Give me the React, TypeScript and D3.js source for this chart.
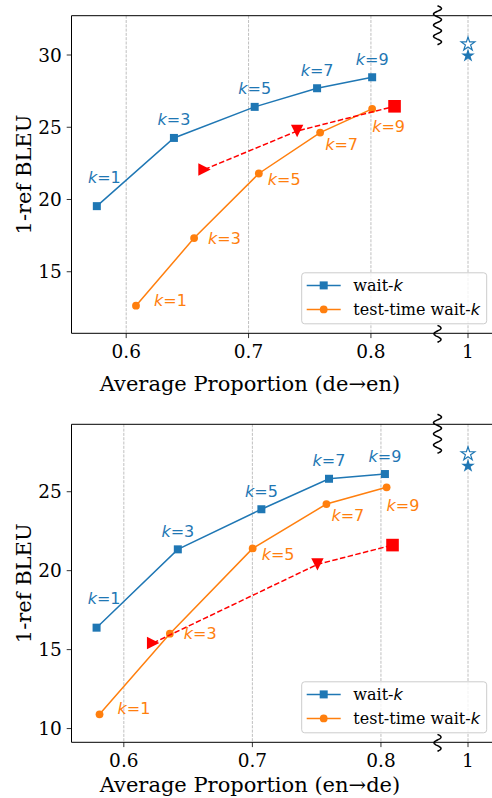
import * as d3 from 'd3';

const W = 492;
const H = 798;

const kValues = [1, 3, 5, 7, 9];
const xTicks = [0.6, 0.7, 0.8];

// de→en
const deWaitX = [0.576, 0.639, 0.705, 0.756, 0.801];
const deWaitY = [19.54, 24.26, 26.41, 27.7, 28.46];
const deTestX = [0.608, 0.6555, 0.7084, 0.7585, 0.801];
const deTestY = [12.65, 17.33, 21.8, 24.63, 26.27];
const deRedX = [0.664, 0.7397, 0.8193];
const deRedY = [22.08, 24.74, 26.45];
const deStarY = [30.75, 29.95]; // hollow, filled
const deYTicks = [15, 20, 25, 30];

// en→de
const enWaitX = [0.5788, 0.642, 0.707, 0.7596, 0.8031];
const enWaitY = [16.39, 21.35, 23.89, 25.82, 26.12];
const enTestX = [0.5811, 0.6358, 0.7002, 0.7576, 0.8044];
const enTestY = [10.9, 16.01, 21.41, 24.22, 25.28];
const enRedX = [0.6228, 0.7506, 0.809];
const enRedY = [15.42, 20.4, 21.62];
const enStarY = [27.39, 26.63];
const enYTicks = [10, 15, 20, 25];

const BLUE = '#1f77b4';
const ORANGE = '#ff7f0e';
const RED = '#ff0000';
const LEFT = 71.5;
const BREAK = 437;

// label offsets (px) for the k annotations
const waitOff = [[7.5, -29], [0, -18.5], [0, -18.5], [0, -18.5], [0, -18]];
const testOff = [[18, -6], [14, 0], [9, 6], [5, 11.5], [0, 17.5]];

function squiggle(cx: number, y0: number, y1: number, waves: number, amp: number) {
  const pts: [number, number][] = [];
  const n = 60;
  for (let i = 0; i <= n; i++) {
    const t = i / n;
    pts.push([cx + amp * Math.sin(t * waves * 2 * Math.PI), y0 + t * (y1 - y0)]);
  }
  return d3.line()(pts) || '';
}

function KLabel({ x, y, k, color, anchor }: any) {
  return (
    <text x={x} y={y} fill={color} fontSize={16} fontFamily="DejaVu Sans" textAnchor={anchor}>
      <tspan fontStyle="italic">k</tspan>={k}
    </text>
  );
}

function Panel(p: any) {
  const x = d3.scaleLinear().domain(p.xDomain).range([LEFT, BREAK]);
  const xr = d3.scaleLinear().domain([0.95, 1.05]).range([BREAK, BREAK + 62]);
  const y = d3.scaleLinear().domain(p.yDomain).range([p.bottom, p.top]);
  const line = d3.line<number>().x((_, i) => x(p.waitX[i])).y(d => y(d));
  const lineT = d3.line<number>().x((_, i) => x(p.testX[i])).y(d => y(d));
  const lineR = d3.line<number>().x((_, i) => x(p.redX[i])).y(d => y(d));
  const star = d3.symbol().type(d3.symbolStar).size(58)() || '';
  const r = 6.2;
  const triRight = `M${-r},${-r}L${r},0L${-r},${r}Z`;
  const triDown = `M${-r},${-r}L${r},${-r}L0,${r}Z`;
  const legY = p.bottom - 9.5 - 51;
  const fs = 18.5;
  const lfs = 21;
  return (
    <g>
      {/* grid */}
      {xTicks.map(t => (
        <line key={t} x1={x(t)} x2={x(t)} y1={p.top} y2={p.bottom} stroke="#b0b0b0" strokeWidth={0.8} strokeDasharray="3,1.3" />
      ))}
      <line x1={xr(1)} x2={xr(1)} y1={p.top} y2={p.bottom} stroke="#b0b0b0" strokeWidth={0.8} strokeDasharray="3,1.3" />

      {/* spines */}
      <line x1={LEFT} x2={LEFT} y1={p.top} y2={p.bottom} stroke="#000" strokeWidth={1} />
      <line x1={LEFT} x2={W} y1={p.top} y2={p.top} stroke="#000" strokeWidth={1} />
      <line x1={LEFT} x2={W} y1={p.bottom} y2={p.bottom} stroke="#000" strokeWidth={1} />
      <path d={squiggle(BREAK + 0.5, p.top - 10, p.top + 29, 3.5, 4)} fill="none" stroke="#000" strokeWidth={1.5} />
      <path d={squiggle(BREAK + 0.5, p.bottom - 8, p.bottom + 9, 1.5, 3.5)} fill="none" stroke="#000" strokeWidth={1.5} />

      {/* y ticks */}
      {p.yTicks.map((t: number) => (
        <g key={t}>
          <line x1={LEFT - 4.8} x2={LEFT} y1={y(t)} y2={y(t)} stroke="#000" strokeWidth={0.8} />
          <text x={LEFT - 9.7} y={y(t) + 6.7} textAnchor="end" fontSize={fs} fontFamily="DejaVu Serif">{t}</text>
        </g>
      ))}
      {/* x ticks */}
      {xTicks.map(t => (
        <g key={t}>
          <line x1={x(t)} x2={x(t)} y1={p.bottom} y2={p.bottom + 4.8} stroke="#000" strokeWidth={0.8} />
          <text x={x(t)} y={p.bottom + 24.5} textAnchor="middle" fontSize={fs} fontFamily="DejaVu Serif">{t}</text>
        </g>
      ))}
      <line x1={xr(1)} x2={xr(1)} y1={p.bottom} y2={p.bottom + 4.8} stroke="#000" strokeWidth={0.8} />
      <text x={xr(1)} y={p.bottom + 24.5} textAnchor="middle" fontSize={fs} fontFamily="DejaVu Serif">1</text>

      {/* axis labels */}
      <text x={250} y={p.bottom + p.xLabelDy} textAnchor="middle" fontSize={lfs} fontFamily="DejaVu Serif">{p.xLabel}</text>
      <text transform={`translate(30.5,${(p.top + p.bottom) / 2}) rotate(-90)`} textAnchor="middle" fontSize={lfs} fontFamily="DejaVu Serif">1-ref BLEU</text>

      {/* wait-k */}
      <path d={line(p.waitY) || ''} fill="none" stroke={BLUE} strokeWidth={1.5} />
      {p.waitY.map((v: number, i: number) => (
        <rect key={i} x={x(p.waitX[i]) - 4} y={y(v) - 4} width={8} height={8} fill={BLUE} />
      ))}
      {/* test-time wait-k */}
      <path d={lineT(p.testY) || ''} fill="none" stroke={ORANGE} strokeWidth={1.5} />
      {p.testY.map((v: number, i: number) => (
        <circle key={i} cx={x(p.testX[i])} cy={y(v)} r={3.9} fill={ORANGE} />
      ))}
      {/* red dashed */}
      <path d={lineR(p.redY) || ''} fill="none" stroke={RED} strokeWidth={1.5} strokeDasharray="5.5,2.4" />
      <path d={triRight} transform={`translate(${x(p.redX[0])},${y(p.redY[0])})`} fill={RED} />
      <path d={triDown} transform={`translate(${x(p.redX[1])},${y(p.redY[1])})`} fill={RED} />
      <rect x={x(p.redX[2]) - 6.3} y={y(p.redY[2]) - 6.3} width={12.6} height={12.6} fill={RED} />

      {/* stars at 1 */}
      <path d={star} transform={`translate(${xr(1)},${y(p.starY[0])})`} fill="#fff" stroke={BLUE} strokeWidth={1.2} />
      <path d={star} transform={`translate(${xr(1)},${y(p.starY[1])})`} fill={BLUE} />

      {/* k labels */}
      {kValues.map((k, i) => (
        <KLabel key={'w' + k} k={k} color={BLUE} anchor="middle"
          x={x(p.waitX[i]) + waitOff[i][0]} y={y(p.waitY[i]) + waitOff[i][1] + 5.8} />
      ))}
      {kValues.map((k, i) => (
        <KLabel key={'t' + k} k={k} color={ORANGE} anchor="start"
          x={x(p.testX[i]) + testOff[i][0]} y={y(p.testY[i]) + testOff[i][1] + 5.8} />
      ))}

      {/* legend */}
      <rect x={301.7} y={legY} width={185} height={51} rx={3} fill="#fff" fillOpacity={0.8} stroke="#cccccc" strokeWidth={1} />
      <line x1={306.7} x2={340.7} y1={legY + 12.6} y2={legY + 12.6} stroke={BLUE} strokeWidth={1.5} />
      <rect x={323.7 - 4} y={legY + 12.6 - 4} width={8} height={8} fill={BLUE} />
      <text x={353.3} y={legY + 12.6 + 5.5} fontSize={16} fontFamily="DejaVu Serif">wait-<tspan fontFamily="DejaVu Sans" fontStyle="italic">k</tspan></text>
      <line x1={306.7} x2={340.7} y1={legY + 36.6} y2={legY + 36.6} stroke={ORANGE} strokeWidth={1.5} />
      <circle cx={323.7} cy={legY + 36.6} r={3.9} fill={ORANGE} />
      <text x={353.3} y={legY + 36.6 + 5.5} fontSize={16} fontFamily="DejaVu Serif">test-time wait-<tspan fontFamily="DejaVu Sans" fontStyle="italic">k</tspan></text>
    </g>
  );
}

export default function App() {
  return (
    <svg width={W} height={H} style={{ position: 'absolute', left: 0, top: 0, background: '#fff' }}>
      <Panel
        xDomain={[0.5553, 0.854]} yDomain={[10.74, 32.72]} top={15.7} bottom={333.3}
        waitX={deWaitX} waitY={deWaitY} testX={deTestX} testY={deTestY}
        redX={deRedX} redY={deRedY} starY={deStarY} yTicks={deYTicks}
        xLabel="Average Proportion (de→en)" xLabelDy={58}
      />
      <Panel
        xDomain={[0.5593, 0.8436]} yDomain={[9.13, 29.27]} top={424.3} bottom={742.3}
        waitX={enWaitX} waitY={enWaitY} testX={enTestX} testY={enTestY}
        redX={enRedX} redY={enRedY} starY={enStarY} yTicks={enYTicks}
        xLabel="Average Proportion (en→de)" xLabelDy={49.5}
      />
    </svg>
  );
}
